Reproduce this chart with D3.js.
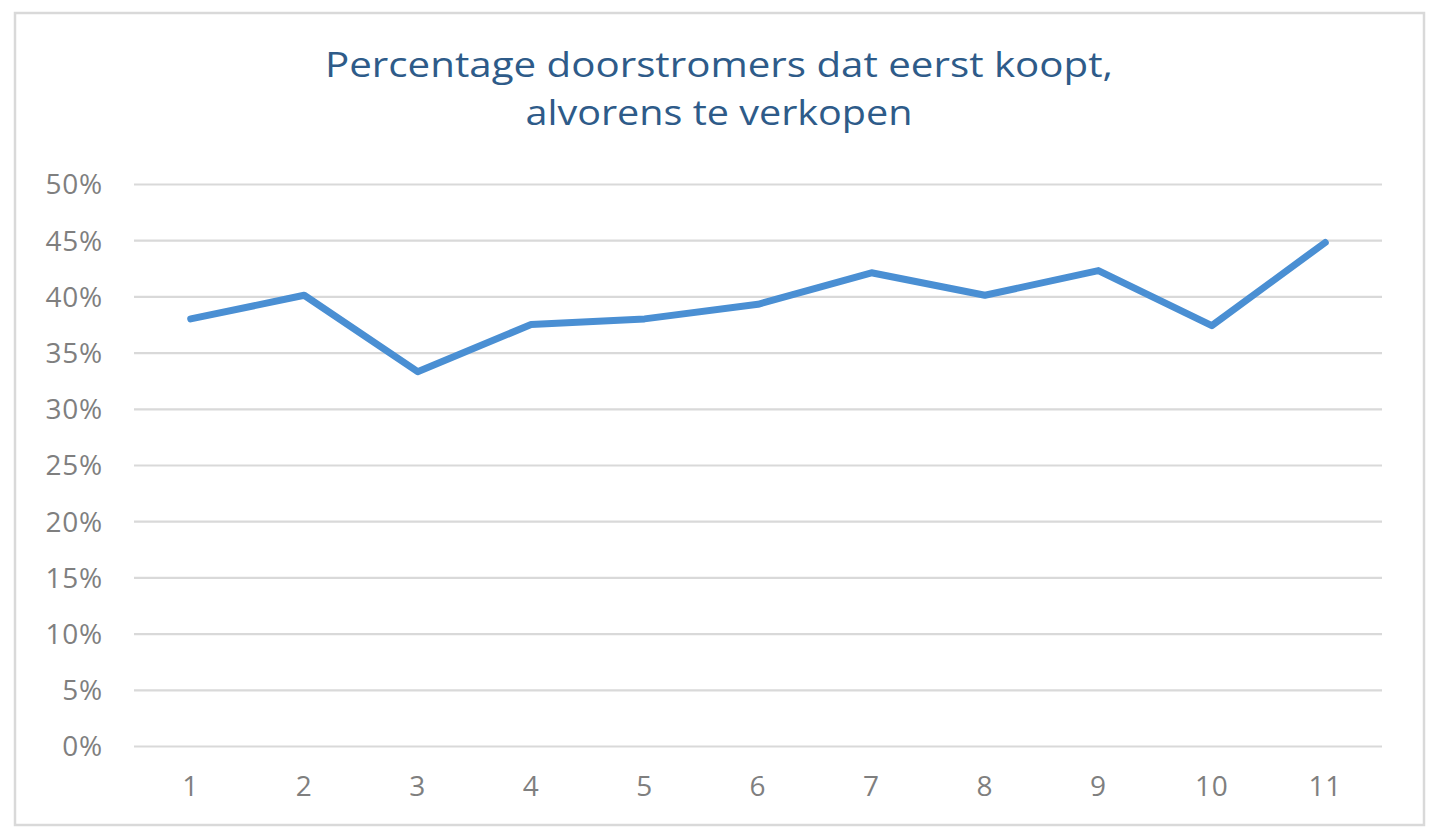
<!DOCTYPE html>
<html>
<head>
<meta charset="utf-8">
<script src="https://cdn.jsdelivr.net/npm/d3@7"></script>
<style>
  body { margin: 0; background: #fff; }
  svg { display: block; }
</style>
</head>
<body>
<svg id="chart"></svg>
<script>
var categories = ['1', '2', '3', '4', '5', '6', '7', '8', '9', '10', '11']
var values = [0.380, 0.401, 0.333, 0.375, 0.380, 0.393, 0.421, 0.401, 0.423, 0.374, 0.448]
var yTicks = [0, 0.05, 0.10, 0.15, 0.20, 0.25, 0.30, 0.35, 0.40, 0.45, 0.50]
var titleLines = ['Percentage doorstromers dat eerst koopt,', 'alvorens te verkopen']

var width = 1440, height = 839
var margin = {left: 134, right: 58, top: 184, bottom: 93}

// the reference text looks a bit stretched sideways
var titleWidths = [788, 387]
var labelFont = 'Open Sans, sans-serif'

var svg = d3.select('#chart').attr('width', width).attr('height', height)

// outer frame
svg.append('rect')
  .attr('x', 15).attr('y', 13).attr('width', 1409).attr('height', 812)
  .attr('fill', '#fff').attr('stroke', '#d9d9d9').attr('stroke-width', 2.5)

var x = d3.scaleBand()
  .domain(categories)
  .range([margin.left, width - margin.right])

var y = d3.scaleLinear()
  .domain([0, 0.5])
  .range([height - margin.bottom, margin.top])

var fmt = d3.format('.0%')

// gridlines + y labels
var yAxis = d3.axisLeft(y)
  .tickValues(yTicks)
  .tickFormat(fmt)
  .tickSize(-(width - margin.left - margin.right))
  .tickPadding(31)

svg.append('g')
  .attr('transform', `translate(${margin.left},0)`)
  .call(yAxis)
  .call(g => g.select('.domain').remove())
  .call(g => g.selectAll('.tick line').attr('stroke', '#d9d9d9').attr('stroke-width', 2.2))
  .call(g => g.selectAll('.tick text')
    .attr('fill', '#7f7f7f')
    .attr('dy', '0.35em')
    .style('font-family', labelFont)
    .style('font-size', '28px')
    .style('letter-spacing', '0.8px'))

// x labels
svg.append('g')
  .attr('transform', `translate(0,${height - margin.bottom})`)
  .call(d3.axisBottom(x).tickSize(0).tickPadding(30))
  .call(g => g.select('.domain').remove())
  .call(g => g.selectAll('.tick text')
    .attr('fill', '#7f7f7f')
    .style('font-family', labelFont)
    .style('font-size', '28px')
    .style('letter-spacing', '0.8px'))

// the line
var line = d3.line()
  .x((d, i) => x(categories[i]) + x.bandwidth() / 2)
  .y(d => y(d))

svg.append('path')
  .datum(values)
  .attr('d', line)
  .attr('fill', 'none')
  .attr('stroke', '#4a8fd3')
  .attr('stroke-width', 7)
  .attr('stroke-linejoin', 'round')
  .attr('stroke-linecap', 'round')

// title
svg.append('g').selectAll('text')
  .data(titleLines)
  .join('text')
  .attr('x', 719)
  .attr('y', (d, i) => 77 + i * 48)
  .attr('text-anchor', 'middle')
  .attr('fill', '#2e5b89')
  .attr('textLength', (d, i) => titleWidths[i])
  .attr('lengthAdjust', 'spacingAndGlyphs')
  .style('font-family', labelFont)
  .style('font-size', '35px')
  .text(d => d)
</script>
</body>
</html>
